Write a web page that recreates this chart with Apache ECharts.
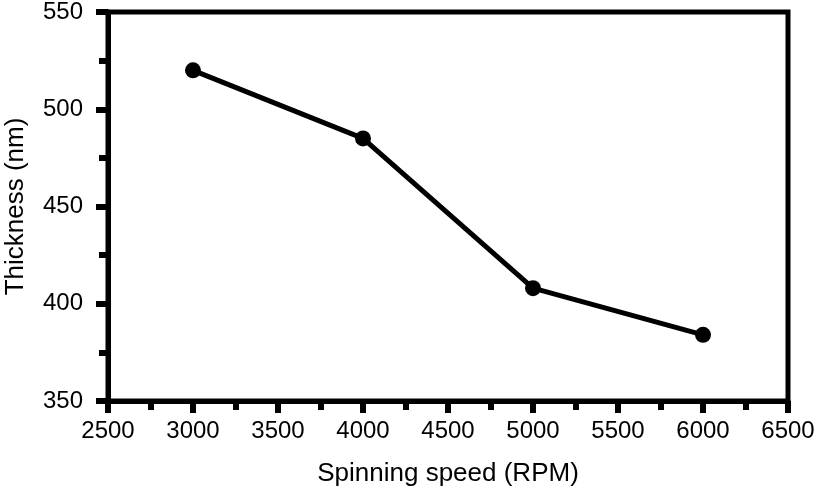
<!DOCTYPE html>
<html>
<head>
<meta charset="utf-8">
<script src="https://cdn.jsdelivr.net/npm/echarts@6/dist/echarts.min.js"></script>
<style>
  html, body { margin: 0; padding: 0; background: #fff; }
  #chart { width: 818px; height: 493px; }
</style>
</head>
<body>
<div id="chart"></div>
<script>
// spinning speed (RPM) vs film thickness (nm)
var speeds = [3000, 4000, 5000, 6000];
var thickness = [520, 485, 408, 384];

var points = speeds.map(function (s, i) { return [s, thickness[i]]; });

var font = "Liberation Sans, Arial, Helvetica, sans-serif";

var myChart = echarts.init(document.getElementById("chart"));
var option = {
  animation: false,
  grid: {
    left: 108,
    right: 30,
    top: 12,
    bottom: 92,
    outerBoundsMode: "none",
    containLabel: false,
    show: true,
    borderColor: "#000",
    borderWidth: 5,
  },
  xAxis: {
    type: "value",
    min: 2500,
    max: 6500,
    interval: 500,
    name: "Spinning speed (RPM)",
    nameLocation: "middle",
    nameGap: 60,
    nameTextStyle: { color: "#000", fontSize: 26, fontFamily: font },
    axisLine: { show: true, lineStyle: { color: "#000", width: 5 } },
    axisTick: { show: true, inside: false, length: 12, lineStyle: { color: "#000", width: 6 } },
    minorTick: { show: true, splitNumber: 2, length: 9, lineStyle: { color: "#000", width: 6 } },
    axisLabel: {
      color: "#000", fontSize: 24, fontFamily: font, margin: 18,
      formatter: function (v) { return String(v); },
    },
    splitLine: { show: false },
  },
  yAxis: {
    type: "value",
    min: 350,
    max: 550,
    interval: 50,
    name: "Thickness (nm)",
    nameLocation: "middle",
    nameGap: 79,
    nameTextStyle: { color: "#000", fontSize: 26, fontFamily: font },
    axisLine: { show: true, lineStyle: { color: "#000", width: 5 } },
    axisTick: { show: true, inside: false, length: 12, lineStyle: { color: "#000", width: 6 } },
    minorTick: { show: true, splitNumber: 2, length: 9, lineStyle: { color: "#000", width: 6 } },
    axisLabel: {
      color: "#000", fontSize: 24, fontFamily: font, margin: 25,
      formatter: function (v) { return String(v); },
    },
    splitLine: { show: false },
  },
  series: [
    {
      type: "line",
      data: points,
      symbol: "circle",
      symbolSize: 16,
      lineStyle: { color: "#000", width: 5 },
      itemStyle: { color: "#000" },
    },
  ],
};
myChart.setOption(option);
</script>
</body>
</html>
